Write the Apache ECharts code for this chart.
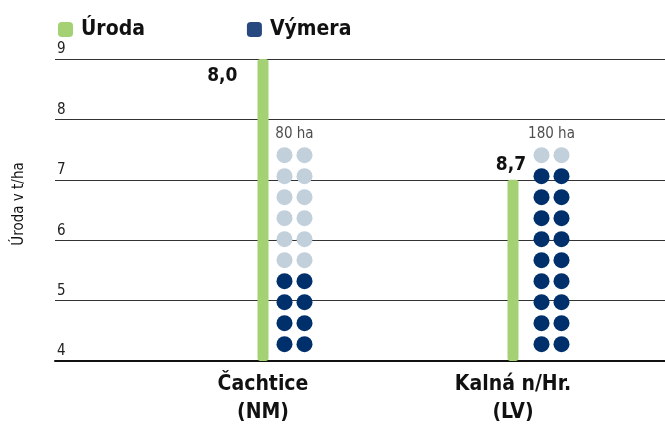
<!DOCTYPE html>
<html>
<head>
<meta charset="utf-8">
<script src="https://cdn.jsdelivr.net/npm/echarts@6/dist/echarts.min.js"></script>
<style>
  html, body { margin: 0; padding: 0; background: #fff; }
  #chart { width: 665px; height: 428px; }
</style>
</head>
<body>
<div id="chart"></div>
<script>
// údaje z grafu
var categories = ["Čachtice\n(NM)", "Kalná n/Hr.\n(LV)"];
var yieldValues = [9, 7];          // výška stĺpca na osi
var yieldLabels = ["8,0", "8,7"];  // popisky nad stĺpcami
var areaHa = [80, 180];            // výmera v ha
var yTicks = [4, 9];               // rozsah osi

var HA_PER_DOT = 10;
var DOTS_TOTAL = 20;
var FONT = '"Liberation Sans Narrow", "DejaVu Sans Condensed", sans-serif';

// bodky: 2 stĺpce x 10 riadkov, plnené odspodu po riadkoch
var darkDots = [], lightDots = [];
areaHa.forEach(function (ha, i) {
  var n = ha / HA_PER_DOT;
  for (var d = 0; d < DOTS_TOTAL; d++) {
    var item = {
      value: [i, Math.floor(d / 2)],
      symbolOffset: [d % 2 ? 10 : -10, 0]
    };
    (d < n ? darkDots : lightDots).push(item);
  }
});
var haLabels = areaHa.map(function (ha, i) { return [i, DOTS_TOTAL / 2]; });

var chart = echarts.init(document.getElementById("chart"));
var option = {
  animation: false,
  textStyle: { fontFamily: FONT },
  legend: {
    left: 53,
    top: 14,
    itemWidth: 15,
    itemHeight: 15,
    itemGap: 102,
    icon: "roundRect",
    data: [
      { name: "Úroda" },
      { name: "Výmera", itemStyle: { color: "#27497f", opacity: 1 } }
    ],
    textStyle: { fontFamily: FONT, fontSize: 21, fontWeight: "bold", color: "#111", padding: [0, 0, 0, 3] }
  },
  grid: [
    { left: 55, right: 0, top: 59, bottom: 67, outerBoundsMode: "none" },
    { left: 138, right: 27, top: 59, bottom: 67, outerBoundsMode: "none" },
    { left: 166, right: -15, top: 59, bottom: 67, outerBoundsMode: "none" }
  ],
  xAxis: [
    {
      gridIndex: 0, type: "category", data: categories,
      axisLine: { show: true, lineStyle: { color: "#111", width: 2 } },
      axisTick: { show: false }, axisLabel: { show: false }
    },
    {
      gridIndex: 1, type: "category", data: categories,
      axisLine: { show: false }, axisTick: { show: false },
      axisLabel: {
        margin: 10, fontFamily: FONT, fontSize: 21, fontWeight: "bold",
        color: "#111", lineHeight: 28
      }
    },
    { gridIndex: 2, type: "category", data: categories, show: false }
  ],
  yAxis: [
    {
      gridIndex: 0, type: "value", min: yTicks[0], max: yTicks[1], interval: 1,
      name: "Úroda v t/ha", nameLocation: "middle", nameGap: 28,
      nameTextStyle: { fontFamily: FONT, fontSize: 15, color: "#111", padding: [0, 0, 0, 12] },
      axisLine: { show: false }, axisTick: { show: false },
      axisLabel: {
        inside: true, margin: 2, verticalAlign: "bottom", padding: [0, 0, 2, 0],
        fontFamily: FONT, fontSize: 15, color: "#222"
      },
      splitLine: { lineStyle: { color: "#333", width: 1 } }
    },
    { gridIndex: 1, type: "value", min: yTicks[0], max: yTicks[1], show: false },
    { gridIndex: 2, type: "value", min: -0.8, max: 13.58, show: false }
  ],
  series: [
    {
      name: "Úroda", type: "bar", xAxisIndex: 1, yAxisIndex: 1,
      barWidth: 11,
      itemStyle: { color: "#a3d174", borderRadius: 3 },
      data: [
        { value: yieldValues[0], label: { position: [-20, 8], align: "right", verticalAlign: "top" } },
        { value: yieldValues[1], label: { position: "top", distance: 5, offset: [-2, 0] } }
      ],
      label: {
        show: true, fontFamily: FONT, fontSize: 19, fontWeight: "bold", color: "#111",
        formatter: function (p) { return yieldLabels[p.dataIndex]; }
      }
    },
    {
      name: "Výmera", type: "scatter", xAxisIndex: 2, yAxisIndex: 2,
      symbolSize: 16, itemStyle: { color: "#00306b", opacity: 1 },
      data: darkDots
    },
    {
      name: "zvyšok", type: "scatter", xAxisIndex: 2, yAxisIndex: 2,
      symbolSize: 16, itemStyle: { color: "#c2d0dc", opacity: 1 },
      data: lightDots
    },
    {
      name: "ha", type: "scatter", xAxisIndex: 2, yAxisIndex: 2,
      symbolSize: 0, data: haLabels,
      label: {
        show: true, position: "inside", fontFamily: FONT, fontSize: 15, color: "#222",
        formatter: function (p) { return areaHa[p.dataIndex] + " ha"; }
      }
    }
  ]
};
chart.setOption(option);
</script>
</body>
</html>
